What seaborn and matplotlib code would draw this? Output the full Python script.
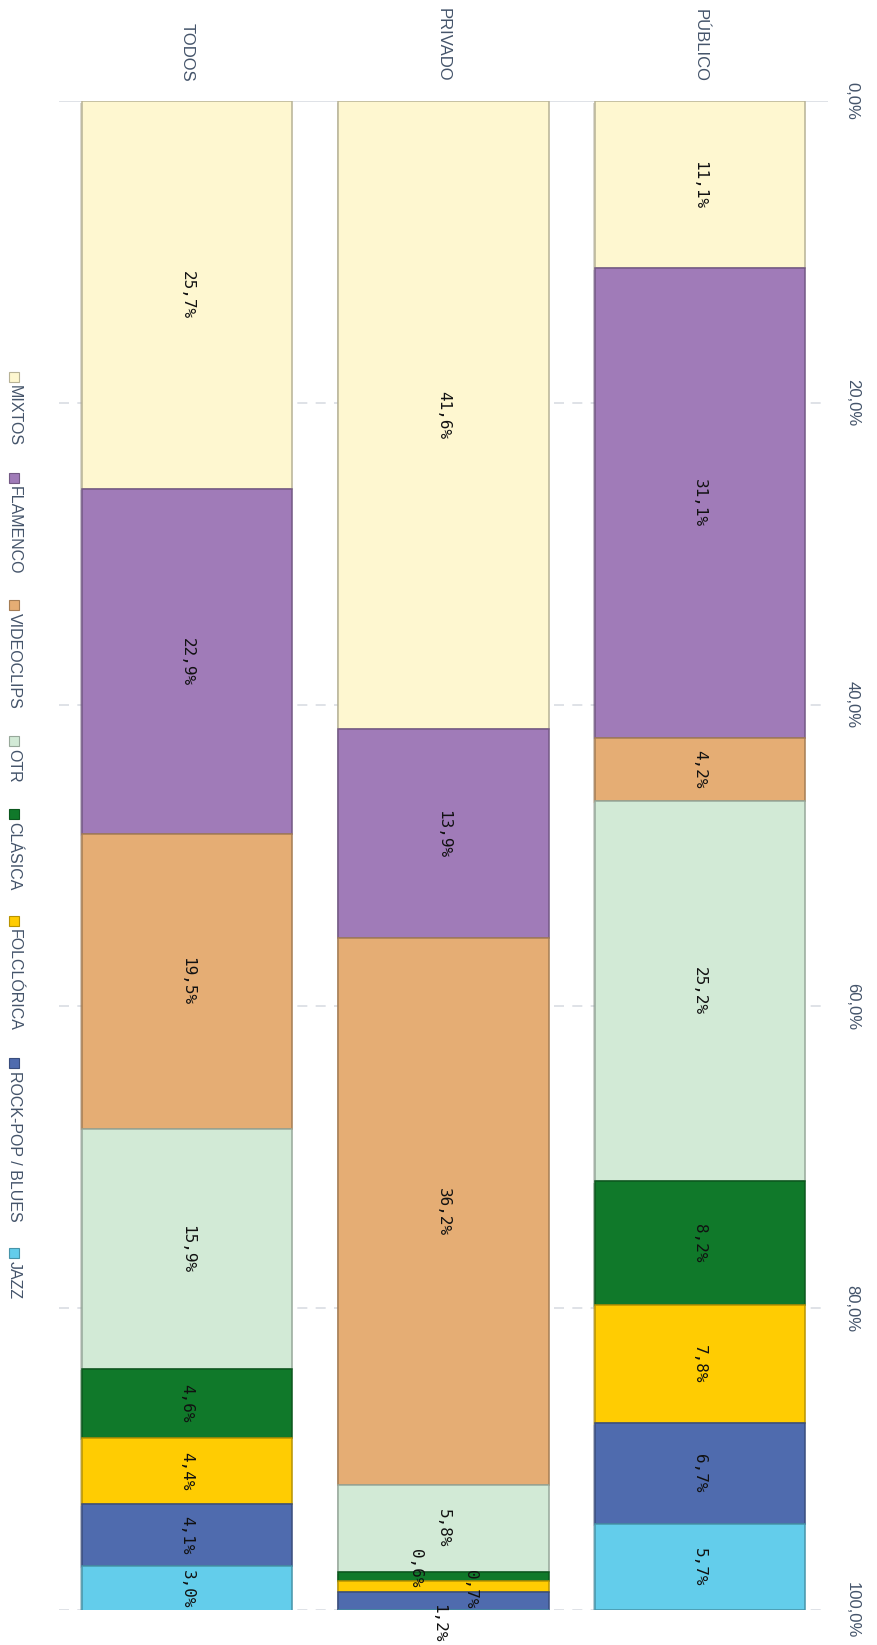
import matplotlib
matplotlib.use("Agg")
import matplotlib.pyplot as plt
import matplotlib.colors as mcolors
import matplotlib.patheffects as pe
from matplotlib.patches import Rectangle
import numpy as np
import pandas as pd
import seaborn as sns

# --- data -------------------------------------------------------------
grupos = ["TODOS", "PRIVADO", "PÚBLICO"]
generos = ["MIXTOS", "FLAMENCO", "VIDEOCLIPS", "OTR", "CLÁSICA",
           "FOLCLÓRICA", "ROCK-POP / BLUES", "JAZZ"]
todos = [25.7, 22.9, 19.5, 15.9, 4.6, 4.4, 4.1, 3.0]
privado = [41.6, 13.9, 36.2, 5.8, 0.6, 0.7, 1.2, 0.0]
publico = [11.1, 31.1, 4.2, 25.2, 8.2, 7.8, 6.7, 5.7]
colores = ["#FEF7D0", "#A07BB8", "#E5AD74", "#D2EAD6", "#10792A",
           "#FFCC02", "#4F6BAE", "#63CDEB"]
ticks = [0, 20, 40, 60, 80, 100]

# long table with the stacking base of every segment
valores = {"TODOS": todos, "PRIVADO": privado, "PÚBLICO": publico}
filas = []
for grupo in grupos:
    base = 0.0
    for genero, v in zip(generos, valores[grupo]):
        filas.append({"grupo": grupo, "genero": genero, "valor": v, "base": base})
        base += v
df = pd.DataFrame(filas)


def oscuro(c, f=0.72):
    r, g, b = mcolors.to_rgb(c)
    return (r * f, g * f, b * f)


sns.set_style("white")
plt.rcParams["font.family"] = ["Liberation Sans", "DejaVu Sans"]

W, H = 877, 1645
fig = plt.figure(figsize=(W / 100, H / 100), dpi=100)
ax = fig.add_axes([59 / W, 1 - 1610 / H, (828 - 59) / W, (1610 - 101) / H])

# stacked columns with a slight bevelled edge
for genero, color in zip(generos, colores):
    sub = df[df["genero"] == genero].set_index("grupo").loc[grupos].reset_index()
    n0 = len(ax.patches)
    sns.barplot(data=sub, x="grupo", y="valor", order=grupos,
                bottom=sub["base"].values, color=color, saturation=1,
                width=0.82, edgecolor=oscuro(color), linewidth=1.1,
                errorbar=None, ax=ax, zorder=3)
    for p in ax.patches[n0:]:
        p.set_path_effects([pe.SimplePatchShadow(offset=(-1.2, -1.2),
                                                 shadow_rgbFace=oscuro(color, 0.6),
                                                 alpha=0.35),
                            pe.Normal()])

ax.set_xlim(-0.5, len(grupos) - 0.5)
ax.set_ylim(100, 0)
ax.set_xlabel("")
ax.set_ylabel("")
for s in ax.spines.values():
    s.set_visible(False)

# gridlines: solid at 0, dashed elsewhere
for t in ticks:
    ax.axhline(t, color="#D9DDE3", lw=1.2, zorder=1,
               ls="-" if t == 0 else (0, (6, 5)))

# category labels on top
ax.xaxis.tick_top()
ax.set_xticks(range(len(grupos)))
ax.set_xticklabels(grupos, rotation=270, va="bottom", ha="center",
                   fontsize=12, color="#44546A")
ax.tick_params(axis="x", length=0, pad=14)

# percent axis on the right
ax.yaxis.tick_right()
ax.set_yticks(ticks)
ax.set_yticklabels([f"{t:.1f}".replace(".", ",") + "%" for t in ticks],
                   rotation=270, va="center", ha="left",
                   fontsize=12, color="#44546A")
ax.tick_params(axis="y", length=0, pad=12)

# value labels inside the segments
desplaz = {("PRIVADO", "CLÁSICA"): (-28, 9),
           ("PRIVADO", "FOLCLÓRICA"): (27, -3),
           ("PRIVADO", "ROCK-POP / BLUES"): (-5, -22)}
for _, r in df.iterrows():
    if r["valor"] <= 0:
        continue
    i = grupos.index(r["grupo"])
    txt = f"{r['valor']:.1f}".replace(".", ",") + "%"
    dx, dy = desplaz.get((r["grupo"], r["genero"]), (0, 0))
    ax.annotate(txt, (i, r["base"] + r["valor"] / 2), xytext=(dx, dy),
                textcoords="offset pixels", rotation=270,
                ha="center", va="center", fontsize=11.5,
                family="DejaVu Sans Mono", color="#111111", zorder=5,
                annotation_clip=False)

# legend down the left edge, text reading top to bottom
renderer = fig.canvas.get_renderer()
textos = []
for genero in generos:
    t = fig.text(15 / W, 0.5, genero, rotation=270, ha="center", va="top",
                 fontsize=11.5, color="#44546A")
    textos.append(t)
alturas = [t.get_window_extent(renderer).height for t in textos]
inicio, fin, caja, sep = 372, 1299, 10, 3
hueco = (fin - inicio - sum(alturas) - len(generos) * (caja + sep)) / (len(generos) - 1)
y = inicio
for t, h, color in zip(textos, alturas, colores):
    fig.patches.append(Rectangle((9 / W, 1 - (y + caja) / H), caja / W, caja / H,
                                 transform=fig.transFigure, facecolor=color,
                                 edgecolor=oscuro(color), lw=0.8))
    t.set_position((14 / W, 1 - (y + caja + sep) / H))
    y += caja + sep + h + hueco

fig.savefig("out.png", dpi=100)
